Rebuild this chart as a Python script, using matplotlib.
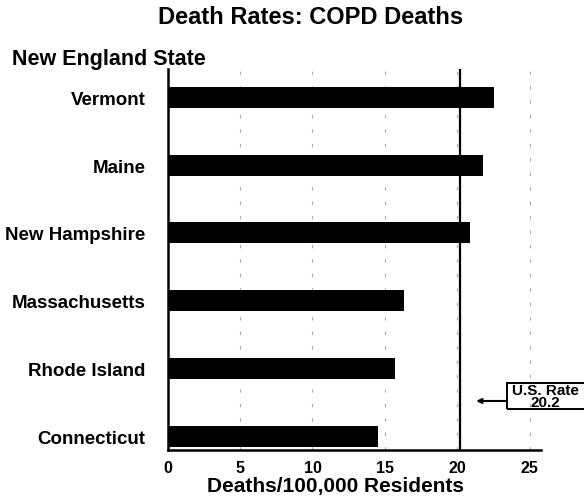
import matplotlib.pyplot as plt
from matplotlib.patches import Rectangle

plt.rcParams['font.family'] = ['Liberation Sans', 'DejaVu Sans']
plt.rcParams['font.weight'] = 'bold'

states = ['Connecticut', 'Rhode Island', 'Massachusetts',
          'New Hampshire', 'Maine', 'Vermont']
rates = [14.5, 15.7, 16.3, 20.9, 21.8, 22.5]
us_rate = 20.2
xticks = [0, 5, 10, 15, 20, 25]

fig = plt.figure(figsize=(5.84, 5.02), dpi=100)
ax = fig.add_axes([0.287, 0.102, 0.639, 0.759])

ypos = list(range(len(states)))
ax.barh(ypos, rates, height=0.31, color='black', zorder=3)

# dashed grid lines
for x in xticks[1:]:
    ax.axvline(x, color='#aaaaaa', lw=0.8, linestyle=(0, (3, 10)), zorder=1)

# US rate line
ax.axvline(us_rate, color='black', lw=1.6, zorder=4)

ax.set_xlim(0, 25.76)
ax.set_ylim(-0.2, 5.42)
ax.set_xticks(xticks)
ax.set_xticklabels([str(t) for t in xticks], fontsize=11.5, fontweight='bold')
ax.set_yticks(ypos)
ax.set_yticklabels(states, fontsize=13.5, fontweight='bold')
ax.tick_params(axis='both', length=0)
ax.tick_params(axis='x', pad=7)
ax.tick_params(axis='y', pad=16)

for s in ['top', 'right']:
    ax.spines[s].set_visible(False)
ax.spines['left'].set_linewidth(1.8)
ax.spines['bottom'].set_linewidth(1.8)

ax.set_xlabel('Deaths/100,000 Residents', fontsize=15, fontweight='bold', labelpad=4)
ax.xaxis.set_label_coords(0.45, -0.068)

# annotation box
box = Rectangle((23.4, 0.40), 6.0, 0.38, fill=False, edgecolor='black',
                lw=1.4, clip_on=False, zorder=5)
ax.add_patch(box)
ax.text(26.1, 0.595, 'U.S. Rate\n20.2', ha='center', va='center', fontsize=11,
        fontweight='bold', linespacing=0.8, clip_on=False, zorder=6)
ax.annotate('', xy=(21.3, 0.52), xytext=(23.4, 0.52),
            arrowprops=dict(arrowstyle='-|>', color='black', lw=1.5,
                            mutation_scale=7, shrinkA=0, shrinkB=0),
            annotation_clip=False)

fig.text(0.531, 0.966, 'Death Rates: COPD Deaths', ha='center', va='center',
         fontsize=17, fontweight='bold')
fig.text(0.02, 0.8705, 'New England State', ha='left', va='baseline',
         fontsize=15.5, fontweight='bold')

fig.savefig('out.png', dpi=100)
